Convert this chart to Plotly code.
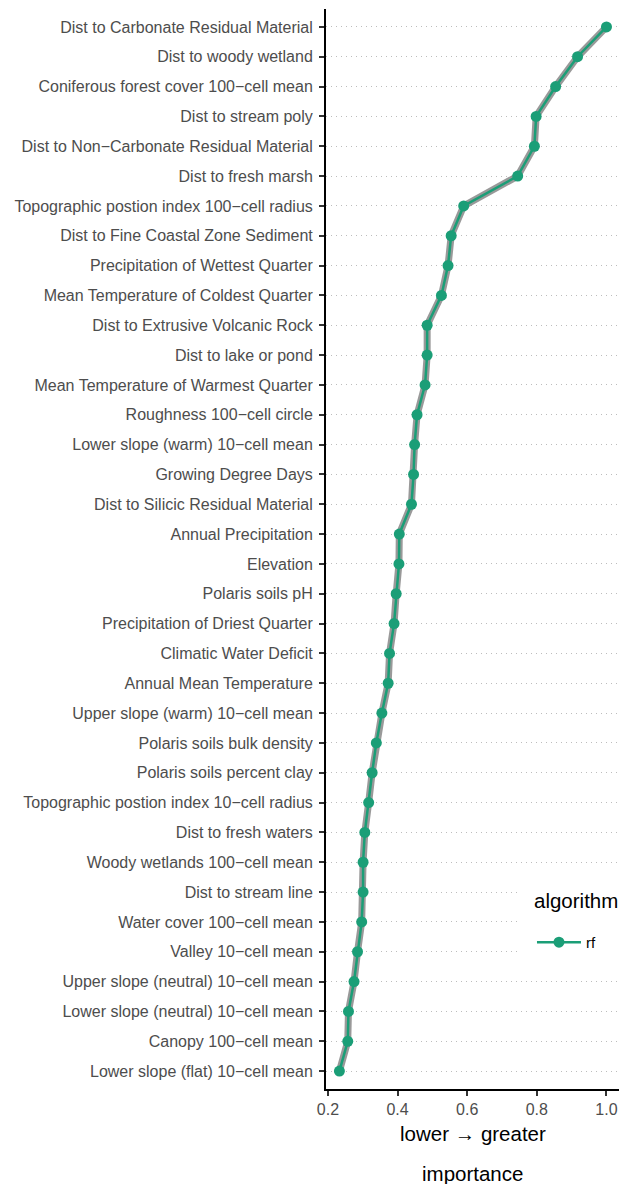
import plotly.graph_objects as go

variables = [
    "Dist to Carbonate Residual Material",
    "Dist to woody wetland",
    "Coniferous forest cover 100\u2212cell mean",
    "Dist to stream poly",
    "Dist to Non\u2212Carbonate Residual Material",
    "Dist to fresh marsh",
    "Topographic postion index 100\u2212cell radius",
    "Dist to Fine Coastal Zone Sediment",
    "Precipitation of Wettest Quarter",
    "Mean Temperature of Coldest Quarter",
    "Dist to Extrusive Volcanic Rock",
    "Dist to lake or pond",
    "Mean Temperature of Warmest Quarter",
    "Roughness 100\u2212cell circle",
    "Lower slope (warm) 10\u2212cell mean",
    "Growing Degree Days",
    "Dist to Silicic Residual Material",
    "Annual Precipitation",
    "Elevation",
    "Polaris soils pH",
    "Precipitation of Driest Quarter",
    "Climatic Water Deficit",
    "Annual Mean Temperature",
    "Upper slope (warm) 10\u2212cell mean",
    "Polaris soils bulk density",
    "Polaris soils percent clay",
    "Topographic postion index 10\u2212cell radius",
    "Dist to fresh waters",
    "Woody wetlands 100\u2212cell mean",
    "Dist to stream line",
    "Water cover 100\u2212cell mean",
    "Valley 10\u2212cell mean",
    "Upper slope (neutral) 10\u2212cell mean",
    "Lower slope (neutral) 10\u2212cell mean",
    "Canopy 100\u2212cell mean",
    "Lower slope (flat) 10\u2212cell mean",
]

importance_rf = [
    1.000, 0.917, 0.854, 0.798, 0.793, 0.745, 0.590, 0.554, 0.545, 0.526,
    0.485, 0.485, 0.479, 0.456, 0.449, 0.446, 0.440, 0.405, 0.404, 0.396,
    0.390, 0.377, 0.373, 0.355, 0.339, 0.327, 0.317, 0.306, 0.301, 0.301,
    0.297, 0.285, 0.275, 0.259, 0.257, 0.233,
]

x_ticks = [0.2, 0.4, 0.6, 0.8, 1.0]
x_ticklabels = ["0.2", "0.4", "0.6", "0.8", "1.0"]

legend_title = "algorithm"
green = "#1B9E77"
font = "Liberation Sans, Arial, sans-serif"

fig = go.Figure()
fig.add_trace(go.Scatter(
    x=importance_rf, y=variables, mode="lines",
    line=dict(color="rgba(128,128,128,0.8)", width=7),
    showlegend=False, hoverinfo="skip",
))
fig.add_trace(go.Scatter(
    x=importance_rf, y=variables, mode="lines+markers", name="rf",
    line=dict(color=green, width=2.5),
    marker=dict(color=green, size=11),
))

# page body has an 8px margin, so the figure is sized to fit the 630x1184 window
fig.update_layout(
    width=622, height=1176,
    margin=dict(l=318, r=11, t=1.4, b=95.4, pad=0),
    paper_bgcolor="white", plot_bgcolor="white",
    font=dict(family=font, color="#4D4D4D"),
    legend=dict(
        font=dict(size=15, color="black"),
        x=0.703, xanchor="left", xref="paper",
        y=0.151, yanchor="top",
        bgcolor="rgba(0,0,0,0)",
        itemwidth=44,
    ),
    shapes=[
        dict(type="rect", xref="paper", yref="paper",
             x0=0.652, x1=1.04, y0=0.1145, y1=0.2026,
             fillcolor="white", line=dict(width=0), layer="above"),
    ],
    annotations=[
        dict(text=legend_title, xref="paper", yref="paper",
             x=0.703, xanchor="left", y=0.1748, yanchor="middle",
             showarrow=False, font=dict(size=20.5, color="black")),
        dict(text="lower \u2192 greater", xref="paper", yref="paper",
             x=0.5, y=0, yanchor="middle", yshift=-44.4, showarrow=False,
             font=dict(size=20.5, color="black")),
        dict(text="importance", xref="paper", yref="paper",
             x=0.5, y=0, yanchor="middle", yshift=-84.4, showarrow=False,
             font=dict(size=20.5, color="black")),
    ],
)

fig.update_xaxes(
    range=[0.1945, 1.036],
    tickvals=x_ticks, ticktext=x_ticklabels,
    ticks="outside", ticklen=5, tickwidth=1.5, tickcolor="#333333",
    tickfont=dict(size=16, color="#4D4D4D"),
    showline=True, linecolor="black", linewidth=2,
    showgrid=False, zeroline=False,
)
fig.update_yaxes(
    categoryorder="array", categoryarray=variables,
    range=[35.6, -0.6],
    ticks="outside", ticklen=5, tickwidth=1.5, tickcolor="#333333",
    tickfont=dict(size=16, color="#4D4D4D"),
    ticklabelstandoff=3,
    showline=True, linecolor="black", linewidth=2,
    showgrid=True, gridcolor="#BDBDBD", gridwidth=1, griddash="1px,4px",
    zeroline=False,
)

fig.write_html("out.html")
